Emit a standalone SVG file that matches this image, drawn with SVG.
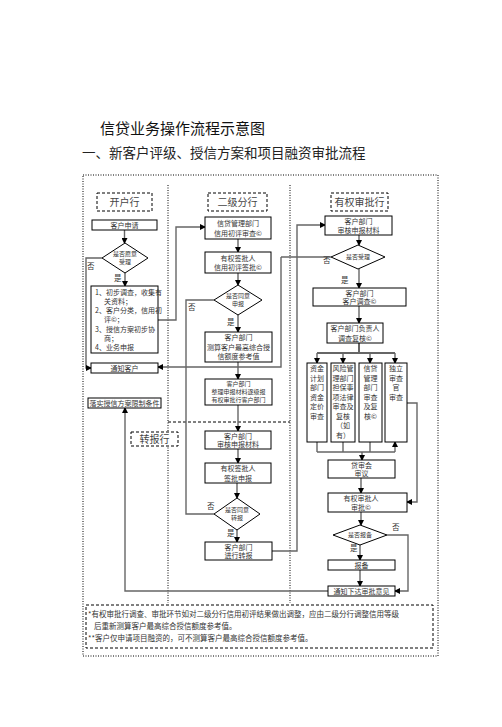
<svg xmlns="http://www.w3.org/2000/svg" width="502" height="727" viewBox="0 0 502 727">
<defs>
<marker id="ah" markerUnits="userSpaceOnUse" markerWidth="6" markerHeight="6" refX="5" refY="3" orient="auto">
<path d="M0,0 L6,3 L0,6 Z" fill="#000"/>
</marker>
<style>
text{font-family:"Noto Sans CJK SC","Noto Sans",sans-serif;fill:#333;}
.t{font-size:7px;text-anchor:middle;}
.s{font-size:6px;text-anchor:middle;}
.h{font-size:10px;text-anchor:middle;fill:#444;}
.l{font-size:7.5px;}
.box{fill:#fff;stroke:#000;stroke-width:1;}
.dbox{fill:#fff;stroke:#000;stroke-width:1;stroke-dasharray:3,2;}
.dot{fill:none;stroke:#000;stroke-width:1;stroke-dasharray:1,1.5;}
.dash{fill:none;stroke:#000;stroke-width:1;stroke-dasharray:3,2;}
.c{fill:none;stroke:#666;stroke-width:1.4;}
.a{fill:none;stroke:#666;stroke-width:1.4;marker-end:url(#ah);}
</style>
</defs>
<rect width="502" height="727" fill="#fff"/>
<text x="100" y="134" style="font-size:15px;fill:#111">信贷业务操作流程示意图</text>
<text x="82" y="158" style="font-size:13.5px;fill:#222">一、新客户评级、授信方案和项目融资审批流程</text>

<g id="frame">
<rect class="dot" x="83" y="175" width="355" height="481"/>
<line class="dot" x1="168" y1="185" x2="168" y2="603"/>
<line class="dot" x1="290" y1="185" x2="290" y2="603"/>
<line class="dash" x1="168" y1="422" x2="290" y2="422"/>
</g>

<g id="connectors">
<path class="a" d="M124.5,230 V243"/>
<path class="a" d="M102,258 H86 V368 H91"/>
<path class="a" d="M125,273 V286"/>
<path class="a" d="M158,320 H176 V227 H205"/>
<path class="a" d="M281,257 V367 H158"/>
<path class="c" d="M214,300 H186 V514 H214"/>
<path class="a" d="M328,591 H125 V408"/>
<path class="a" d="M238,239 V252"/>
<path class="a" d="M238,273 V285"/>
<path class="a" d="M238,315 V332"/>
<path class="a" d="M238,362 V379"/>
<path class="a" d="M238,405 V431"/>
<path class="a" d="M238,449 V463"/>
<path class="a" d="M237,483 V498"/>
<path class="a" d="M237,530 V542"/>
<path class="a" d="M272,551 H297 V225 H325"/>
<path class="c" d="M331,257 H281"/>
<path class="a" d="M359,235 V245"/>
<path class="a" d="M359,269 V288"/>
<path class="a" d="M359,306 V323"/>
<path class="c" d="M359,343 V353 M317,353 H395" style="stroke-width:2"/>
<path class="a" d="M317,353 V363"/>
<path class="a" d="M343,353 V363"/>
<path class="a" d="M370,353 V363"/>
<path class="a" d="M395,353 V363"/>
<path class="c" d="M317,442 V452 M343,442 V452 M370,442 V452 M317,452 H395"/>
<path class="a" d="M395,452 V442"/>
<path class="a" d="M362,452 V460"/>
<path class="a" d="M407,403 H417 V502 H407"/>
<path class="a" d="M361,478 V493"/>
<path class="a" d="M361,512 V525"/>
<path class="a" d="M387,535 H408 V591 H395"/>
<path class="a" d="M360,545 V560"/>
<path class="a" d="M360,570 V586"/>
</g>

<g id="n-kaihuhang"><rect class="dbox" x="97" y="193" width="55" height="18"/><text class="h" x="124.5" y="205.5">开户行</text></g>
<g id="n-erji"><rect class="dbox" x="208" y="193" width="59" height="18"/><text class="h" x="237.5" y="205.5">二级分行</text></g>
<g id="n-youquan"><rect class="dbox" x="331" y="193" width="57" height="18"/><text class="h" x="359.5" y="205.5">有权审批行</text></g>
<g id="n-zhuanbao"><rect class="dbox" x="131" y="432" width="47" height="14"/><text class="h" x="154.5" y="442.5">转报行</text></g>

<g id="n-shenqing"><rect class="box" x="92" y="220" width="65" height="10"/><text class="t" x="124.5" y="227.5">客户申请</text></g>
<g id="n-d1"><polygon class="box" points="125,243 148,258 125,273 102,258"/><text class="s" x="125" y="256">是否愿意</text><text class="s" x="125" y="264">受理</text></g>
<text class="l" x="87" y="269">否</text>
<text class="l" x="114" y="281">是</text>
<g id="n-b1"><rect class="box" x="91" y="286" width="67" height="67"/>
<text class="t" x="95" y="294.5" style="text-anchor:start">1、初步调查，收集有</text>
<text class="t" x="104" y="303.5" style="text-anchor:start">关资料；</text>
<text class="t" x="95" y="313" style="text-anchor:start">2、客户分类，信用初</text>
<text class="t" x="104" y="322" style="text-anchor:start">评©；</text>
<text class="t" x="95" y="331.5" style="text-anchor:start">3、授信方案初步协</text>
<text class="t" x="104" y="340.5" style="text-anchor:start">商；</text>
<text class="t" x="95" y="350" style="text-anchor:start">4、业务申报</text>
</g>
<g id="n-tongzhi"><rect class="box" x="91" y="363" width="67" height="10"/><text class="t" x="124.5" y="370.5">通知客户</text></g>
<g id="n-luoshi"><rect class="box" x="88" y="398" width="73" height="10"/><text class="t" x="124.5" y="405.5">落实授信方案限制条件</text></g>

<g id="n-a2"><rect class="box" x="205" y="217" width="66" height="22"/><text class="t" x="238" y="226">信贷管理部门</text><text class="t" x="238" y="235.5">信用初评审查©</text></g>
<g id="n-b2"><rect class="box" x="205" y="252" width="66" height="21"/><text class="t" x="238" y="260.5">有权签批人</text><text class="t" x="238" y="270">信用初评签批©</text></g>
<g id="n-d2a"><polygon class="box" points="238,285 262,300 238,315 214,300"/><text class="s" x="238" y="298">是否同意</text><text class="s" x="238" y="306">申报</text></g>
<text class="l" x="188" y="310">否</text>
<text class="l" x="227" y="325">是</text>
<g id="n-c2"><rect class="box" x="205" y="332" width="67" height="30"/><text class="t" x="238.5" y="340">客户部门</text><text class="t" x="238.5" y="349.5">测算客户最高综合授</text><text class="t" x="238.5" y="359">信额度参考值</text></g>
<g id="n-e2"><rect class="box" x="205" y="379" width="67" height="26"/><text class="s" x="238.5" y="385.5">客户部门</text><text class="s" x="238.5" y="393.8">整理申报材料逐级报</text><text class="s" x="238.5" y="402.1">有权审批行客户部门</text></g>
<g id="n-f2"><rect class="box" x="205" y="431" width="66" height="18"/><text class="t" x="238" y="438.5">客户部门</text><text class="t" x="238" y="447">审核申报材料</text></g>
<g id="n-g2"><rect class="box" x="205" y="463" width="66" height="20"/><text class="t" x="238" y="471">有权签批人</text><text class="t" x="238" y="480.5">签批申报</text></g>
<g id="n-d2b"><polygon class="box" points="237,498 260,514 237,530 214,514"/><text class="s" x="237" y="512">是否同意</text><text class="s" x="237" y="520">转报</text></g>
<text class="l" x="207" y="509">否</text>
<text class="l" x="227" y="536">是</text>
<g id="n-h2"><rect class="box" x="205" y="542" width="67" height="18"/><text class="t" x="238.5" y="549.5">客户部门</text><text class="t" x="238.5" y="558">进行转报</text></g>

<g id="n-a3"><rect class="box" x="325" y="216" width="67" height="19"/><text class="t" x="358.5" y="224">客户部门</text><text class="t" x="358.5" y="233">审核申报材料</text></g>
<g id="n-d3"><polygon class="box" points="358,245 385,257 358,269 331,257"/><text class="s" x="358" y="259">是否受理</text></g>
<text class="l" x="323" y="263">否</text>
<text class="l" x="341" y="283">是</text>
<g id="n-b3"><rect class="box" x="313" y="288" width="93" height="18"/><text class="t" x="359.5" y="295.5">客户部门</text><text class="t" x="359.5" y="304">客户调查©</text></g>
<g id="n-c3"><rect class="box" x="327" y="323" width="56" height="20"/><text class="t" x="355" y="331">客户部门负责人</text><text class="t" x="355" y="340.5">调查复核©</text></g>
<g id="n-p1"><rect class="box" x="307" y="363" width="20" height="79"/>
<text class="t" x="317" y="371">资金</text><text class="t" x="317" y="380.5">计划</text><text class="t" x="317" y="390">部门</text><text class="t" x="317" y="399.5">资金</text><text class="t" x="317" y="409">定价</text><text class="t" x="317" y="418.5">审查</text></g>
<g id="n-p2"><rect class="box" x="331" y="363" width="24" height="79"/>
<text class="t" x="343" y="371">风险管</text><text class="t" x="343" y="380.5">理部门</text><text class="t" x="343" y="390">担保事</text><text class="t" x="343" y="399.5">项法律</text><text class="t" x="343" y="409">审查及</text><text class="t" x="343" y="418.5">复核</text><text class="t" x="343" y="428">（如</text><text class="t" x="343" y="437.5">有）</text></g>
<g id="n-p3"><rect class="box" x="359" y="363" width="23" height="79"/>
<text class="t" x="370.5" y="371">信贷</text><text class="t" x="370.5" y="380.5">管理</text><text class="t" x="370.5" y="390">部门</text><text class="t" x="370.5" y="399.5">审查</text><text class="t" x="370.5" y="409">及复</text><text class="t" x="370.5" y="418.5">核©</text></g>
<g id="n-p4"><rect class="box" x="385" y="363" width="22" height="79"/>
<text class="t" x="396" y="371">独立</text><text class="t" x="396" y="380.5">审查</text><text class="t" x="396" y="390">官</text><text class="t" x="396" y="399.5">审查</text></g>
<g id="n-dsh"><rect class="box" x="328" y="460" width="67" height="18"/><text class="t" x="361.5" y="467.5">贷审会</text><text class="t" x="361.5" y="476">审议</text></g>
<g id="n-spr"><rect class="box" x="328" y="493" width="79" height="19"/><text class="t" x="361" y="501">有权审批人</text><text class="t" x="361" y="510">审批©</text></g>
<g id="n-d3b"><polygon class="box" points="360,525 387,535 360,545 333,535"/><text class="s" x="360" y="537">是否报备</text></g>
<text class="l" x="392" y="530">否</text>
<text class="l" x="350" y="551">是</text>
<g id="n-baobei"><rect class="box" x="328" y="560" width="67" height="10"/><text class="t" x="361.5" y="567.5">报备</text></g>
<g id="n-xiada"><rect class="box" x="328" y="586" width="67" height="10"/><text class="t" x="361.5" y="593.5">通知下达审批意见</text></g>

<g id="n-note"><rect class="dash" x="86" y="605" width="347" height="43"/>
<text class="l" x="88" y="617">*有权审批行调查、审批环节如对二级分行信用初评结果做出调整，应由二级分行调整信用等级</text>
<text class="l" x="94" y="629">后重新测算客户最高综合授信额度参考值。</text>
<text class="l" x="88" y="641">**客户仅申请项目融资的，可不测算客户最高综合授信额度参考值。</text>
</g>
</svg>
